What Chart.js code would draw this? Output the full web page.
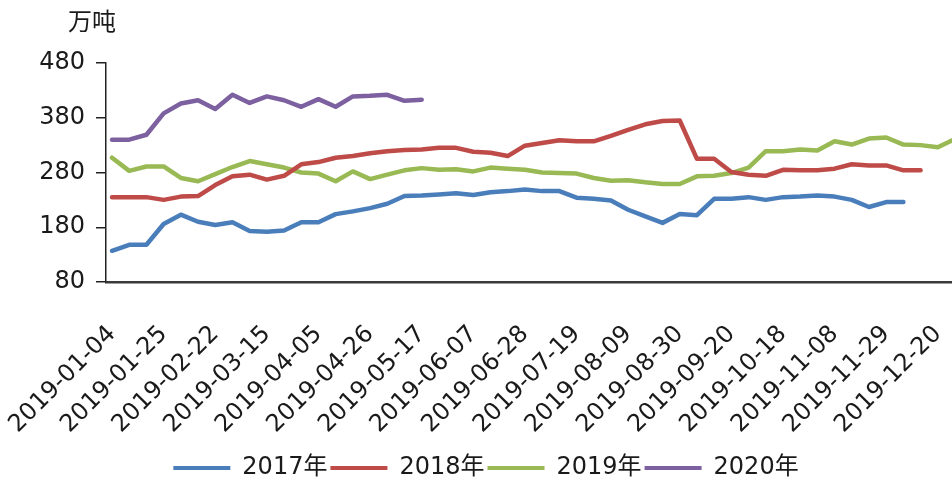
<!DOCTYPE html>
<html><head><meta charset="utf-8">
<script src="https://cdn.jsdelivr.net/npm/chart.js@4/dist/chart.umd.min.js"></script>
<style>
html,body{margin:0;padding:0;overflow:hidden;background:#fff;width:952px;height:479px}
#wrap{position:relative;width:955px;height:490px}
</style></head>
<body><div id="wrap"><canvas id="c" width="955" height="490"></canvas></div>
<script>
const weeks = ["2019-01-04","2019-01-11","2019-01-18","2019-01-25","2019-02-01","2019-02-15","2019-02-22","2019-03-01","2019-03-08","2019-03-15",
"2019-03-22","2019-03-29","2019-04-05","2019-04-12","2019-04-19","2019-04-26","2019-05-03","2019-05-10","2019-05-17","2019-05-24",
"2019-05-31","2019-06-07","2019-06-14","2019-06-21","2019-06-28","2019-07-05","2019-07-12","2019-07-19","2019-07-26","2019-08-02",
"2019-08-09","2019-08-16","2019-08-23","2019-08-30","2019-09-06","2019-09-13","2019-09-20","2019-09-27","2019-10-11","2019-10-18",
"2019-10-25","2019-11-01","2019-11-08","2019-11-15","2019-11-22","2019-11-29","2019-12-06","2019-12-13","2019-12-20","2019-12-27"];
const shownWeeks = ["2019-01-04","2019-01-25","2019-02-22","2019-03-15","2019-04-05","2019-04-26","2019-05-17","2019-06-07","2019-06-28",
"2019-07-19","2019-08-09","2019-08-30","2019-09-20","2019-10-18","2019-11-08","2019-11-29","2019-12-20"];
const yTicks = [80,180,280,380,480];
const unitLabel = "万吨";
const seriesNames = ["2017年","2018年","2019年","2020年"];
const s2017 = [137,148,148,186,203,190,184,189,173,172,174,189,189,204,209,215,223,237,238,240,242,239,244,246,249,246,246,234,232,229,212,200,188,204,202,232,232,235,230,235,236,238,236,230,217,226,226];
const s2018 = [235,235,235,230,236,237,257,273,276,267,274,295,299,307,310,315,319,321,322,325,325,318,316,310,329,334,339,337,337,347,358,368,374,375,305,305,281,276,274,285,284,284,287,295,293,293,284,284];
const s2019 = [307,283,291,291,270,264,277,290,301,295,289,280,278,264,282,268,276,284,288,285,286,282,289,287,285,280,279,278,270,265,266,262,259,259,273,274,279,289,319,319,322,320,337,331,342,344,331,330,326,341];
const s2020 = [340,340,349,388,406,412,396,422,407,419,412,400,414,400,419,420,422,411,413];
const colors = ["#4A7EBB","#BE4B48","#98B954","#7D60A0"];

const toXY = arr => arr.map((v,i)=>({x:i,y:v}));
const all = [s2017,s2018,s2019,s2020];
const datasets = all.map((arr,k)=>({
  label: seriesNames[k], data: toXY(arr), borderColor: colors[k], backgroundColor: colors[k],
  borderWidth: 4.5, pointRadius: 0, tension: 0, borderJoinStyle: 'round', borderCapStyle: 'round'
}));

const unitTitle = {
  id: 'unitTitle',
  afterDraw(chart){
    const {ctx, chartArea} = chart;
    ctx.save();
    ctx.font = '24px "Noto Sans CJK SC"';
    ctx.fillStyle = '#1a1a1a';
    ctx.textAlign = 'left';
    ctx.textBaseline = 'middle';
    ctx.fillText(unitLabel, chartArea.left - 38, 21);
    ctx.restore();
  }
};

const FONT = {family: '"DejaVu Sans", "Noto Sans CJK SC", sans-serif', size: 24};
new Chart(document.getElementById('c'), {
  type: 'line',
  data: { datasets },
  plugins: [unitTitle],
  options: {
    responsive: false, animation: false, devicePixelRatio: 1,
    layout: { padding: { left: 17, right: 0, top: 63, bottom: 0 } },
    plugins: {
      tooltip: { enabled: false },
      legend: {
        position: 'bottom',
        labels: {
          boxWidth: 57, boxHeight: 4, padding: 3, color: '#1a1a1a', font: FONT,
          generateLabels(chart){
            const items = Chart.defaults.plugins.legend.labels.generateLabels(chart);
            items.forEach(it=>{ it.lineWidth = 0; it.fillStyle = it.strokeStyle; });
            return items;
          }
        }
      }
    },
    scales: {
      x: {
        type: 'linear', min: -0.35, max: 49,
        afterBuildTicks(scale){ scale.ticks = shownWeeks.map(w=>({value: weeks.indexOf(w)})); },
        afterFit(scale){ scale.height = 171; scale.paddingLeft = 0; scale.paddingRight = 0; },
        ticks: { autoSkip: false, minRotation: 45, maxRotation: 45, padding: 30, color: '#1a1a1a', font: FONT,
          callback: v => weeks[v] },
        grid: { display: false },
        border: { display: true, color: '#3a3a3a', width: 2.5 }
      },
      y: {
        min: 80, max: 480,
        afterBuildTicks(scale){ scale.ticks = yTicks.map(v=>({value:v})); },
        afterFit(scale){ scale.width = 89; scale.paddingTop = 0; scale.paddingBottom = 0; },
        ticks: { padding: 11, color: '#1a1a1a', font: FONT },
        grid: { display: true, drawOnChartArea: false, drawTicks: true, tickLength: 10, color: '#222', lineWidth: 1.5 },
        border: { display: true, color: '#222', width: 1.5 }
      }
    }
  }
});
</script>
</body></html>
